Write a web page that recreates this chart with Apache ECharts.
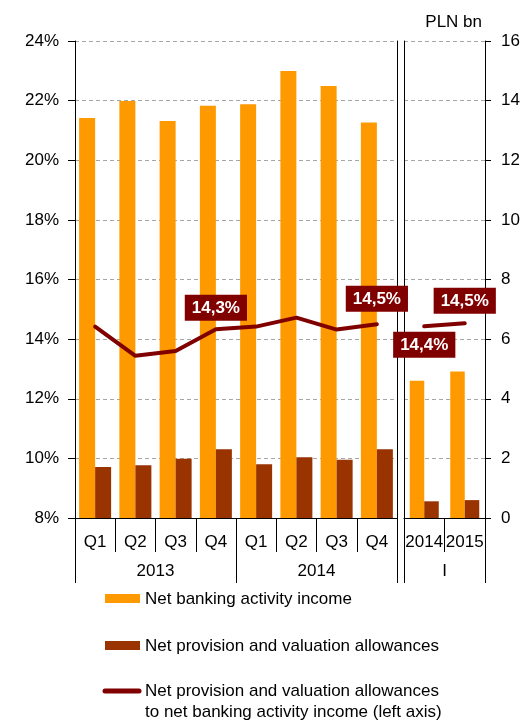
<!DOCTYPE html>
<html>
<head>
<meta charset="utf-8">
<script src="https://cdn.jsdelivr.net/npm/echarts@6/dist/echarts.min.js"></script>
<style>
  html, body { margin: 0; padding: 0; background: #fff; }
  #chart { width: 526px; height: 720px; }
</style>
</head>
<body>
<div id="chart"></div>
<script>
// Quarterly panel (2013-2014) and January panel (2014, 2015)
const quarters = ['Q1', 'Q2', 'Q3', 'Q4', 'Q1', 'Q2', 'Q3', 'Q4'];
const quarterYears = ['2013', '2014'];
const januaryYears = ['2014', '2015'];
const januaryLabel = ['I'];

// PLN bn (right axis)
const incomeQ = [13.42, 13.99, 13.32, 13.83, 13.88, 14.99, 14.49, 13.27];
const provisionQ = [1.71, 1.77, 1.99, 2.31, 1.80, 2.04, 1.95, 2.31];
const incomeJan = [4.60, 4.91];
const provisionJan = [0.56, 0.60];

// Ratio in % (left axis)
const ratioQ = [14.42, 13.44, 13.60, 14.33, 14.42, 14.72, 14.32, 14.50];
const ratioJan = [14.43, 14.53];

// Axis ranges
const pctAxis = { min: 8, max: 24, interval: 2 };
const plnAxis = { min: 0, max: 16, interval: 2 };

const seriesNames = [
  'Net banking activity income',
  'Net provision and valuation allowances',
  'Net provision and valuation allowances\nto net banking activity income (left axis)'
];

// Which ratio points carry a value box, and where
const labelsQ = { 3: { position: 'top', distance: 8 }, 7: { position: 'top', distance: 12 } };
const labelsJan = { 0: { position: 'bottom', distance: 5 }, 1: { position: 'top', distance: 9 } };

const FONT = "'Liberation Sans', Arial, sans-serif";
const ORANGE = '#FF9900';
const BROWN = '#993300';
const DARKRED = '#800000';
const GRID_LINE = { show: true, lineStyle: { color: '#A6A6A6', type: [4, 3], width: 1 } };

function fmtPct(v) { return v.toFixed(1).replace('.', ',') + '%'; }

function ratioData(values, labelMap) {
  return values.map((v, i) => {
    const l = labelMap[i];
    if (!l) return v;
    return {
      value: v,
      label: {
        show: true,
        position: l.position,
        distance: l.distance,
        formatter: p => fmtPct(p.value),
        backgroundColor: DARKRED,
        color: '#fff',
        fontWeight: 'bold',
        fontSize: 17,
        fontFamily: FONT,
        padding: [5, 7, 4, 7]
      }
    };
  });
}

const axisBlack = { lineStyle: { color: '#000', width: 1 } };
const labelStyle = { color: '#000', fontSize: 17, fontFamily: FONT };

const lineSeriesBase = {
  type: 'line',
  symbol: 'circle',
  symbolSize: 1,
  showSymbol: true,
  z: 5,
  itemStyle: { color: DARKRED },
  lineStyle: { color: DARKRED, width: 4, cap: 'round', join: 'round' }
};

const chart = echarts.init(document.getElementById('chart'), null, { renderer: 'canvas' });

chart.setOption({
  animation: false,
  backgroundColor: '#fff',
  textStyle: { fontFamily: FONT },
  grid: [
    { left: 75, top: 41, width: 322, height: 477 },
    { left: 404, top: 41, width: 81, height: 477 }
  ],
  xAxis: [
    {
      type: 'category', gridIndex: 0, data: quarters, position: 'bottom',
      axisLine: { show: true, ...axisBlack },
      axisTick: { show: true, length: 34, ...axisBlack },
      axisLabel: { ...labelStyle, margin: 16, interval: 0 }
    },
    {
      type: 'category', gridIndex: 0, data: quarterYears, position: 'bottom',
      axisLine: { show: false },
      axisTick: { show: true, length: 65, ...axisBlack },
      axisLabel: { ...labelStyle, margin: 45, interval: 0 }
    },
    {
      type: 'category', gridIndex: 1, data: januaryYears, position: 'bottom',
      axisLine: { show: true, ...axisBlack },
      axisTick: { show: true, length: 34, ...axisBlack },
      axisLabel: { ...labelStyle, margin: 16, interval: 0 }
    },
    {
      type: 'category', gridIndex: 1, data: januaryLabel, position: 'bottom',
      axisLine: { show: false },
      axisTick: { show: true, length: 65, ...axisBlack },
      axisLabel: { ...labelStyle, margin: 45, interval: 0 }
    }
  ],
  yAxis: [
    {
      type: 'value', gridIndex: 0, position: 'left', ...pctAxis,
      axisLine: { show: true, ...axisBlack },
      axisTick: { show: true, length: 7, ...axisBlack },
      axisLabel: { ...labelStyle, margin: 16, formatter: v => v + '%' },
      splitLine: GRID_LINE
    },
    {
      type: 'value', gridIndex: 0, position: 'right', ...plnAxis,
      axisLine: { show: true, ...axisBlack },
      axisTick: { show: false },
      axisLabel: { show: false },
      splitLine: { show: false }
    },
    {
      type: 'value', gridIndex: 1, position: 'left', ...pctAxis,
      axisLine: { show: true, ...axisBlack },
      axisTick: { show: false },
      axisLabel: { show: false },
      splitLine: { show: false }
    },
    {
      type: 'value', gridIndex: 1, position: 'right', ...plnAxis,
      name: 'PLN bn', nameLocation: 'end', nameGap: 10,
      nameTextStyle: { ...labelStyle, align: 'right', padding: [0, 3, 0, 0] },
      axisLine: { show: true, ...axisBlack },
      axisTick: { show: true, length: 6, ...axisBlack },
      axisLabel: { ...labelStyle, margin: 16 },
      splitLine: GRID_LINE
    }
  ],
  series: [
    {
      name: seriesNames[0], type: 'bar', xAxisIndex: 0, yAxisIndex: 1,
      data: incomeQ, barWidth: 16, barGap: '0%', itemStyle: { color: ORANGE }
    },
    {
      name: seriesNames[1], type: 'bar', xAxisIndex: 0, yAxisIndex: 1,
      data: provisionQ, barWidth: 16, barGap: '0%', itemStyle: { color: BROWN }
    },
    {
      ...lineSeriesBase, name: seriesNames[2], xAxisIndex: 0, yAxisIndex: 0,
      data: ratioData(ratioQ, labelsQ)
    },
    {
      name: seriesNames[0], type: 'bar', xAxisIndex: 2, yAxisIndex: 3,
      data: incomeJan, barWidth: 14.5, barGap: '0%', itemStyle: { color: ORANGE }
    },
    {
      name: seriesNames[1], type: 'bar', xAxisIndex: 2, yAxisIndex: 3,
      data: provisionJan, barWidth: 14.5, barGap: '0%', itemStyle: { color: BROWN }
    },
    {
      ...lineSeriesBase, name: seriesNames[2], xAxisIndex: 2, yAxisIndex: 2,
      data: ratioData(ratioJan, labelsJan)
    }
  ],
  graphic: [
    { type: 'rect', left: 105, top: 594, shape: { width: 35, height: 9 }, style: { fill: ORANGE } },
    { type: 'text', left: 145, top: 591, style: { text: seriesNames[0], fill: '#000', font: '17px ' + FONT } },
    { type: 'rect', left: 105, top: 641, shape: { width: 35, height: 9 }, style: { fill: BROWN } },
    { type: 'text', left: 145, top: 638, style: { text: seriesNames[1], fill: '#000', font: '17px ' + FONT } },
    {
      type: 'line', shape: { x1: 105, y1: 691, x2: 139, y2: 691 },
      style: { stroke: DARKRED, lineWidth: 5, lineCap: 'round' }
    },
    {
      type: 'text', left: 145, top: 681,
      style: { text: seriesNames[2], fill: '#000', font: '17px ' + FONT, lineHeight: 21 }
    }
  ]
});
</script>
</body>
</html>
